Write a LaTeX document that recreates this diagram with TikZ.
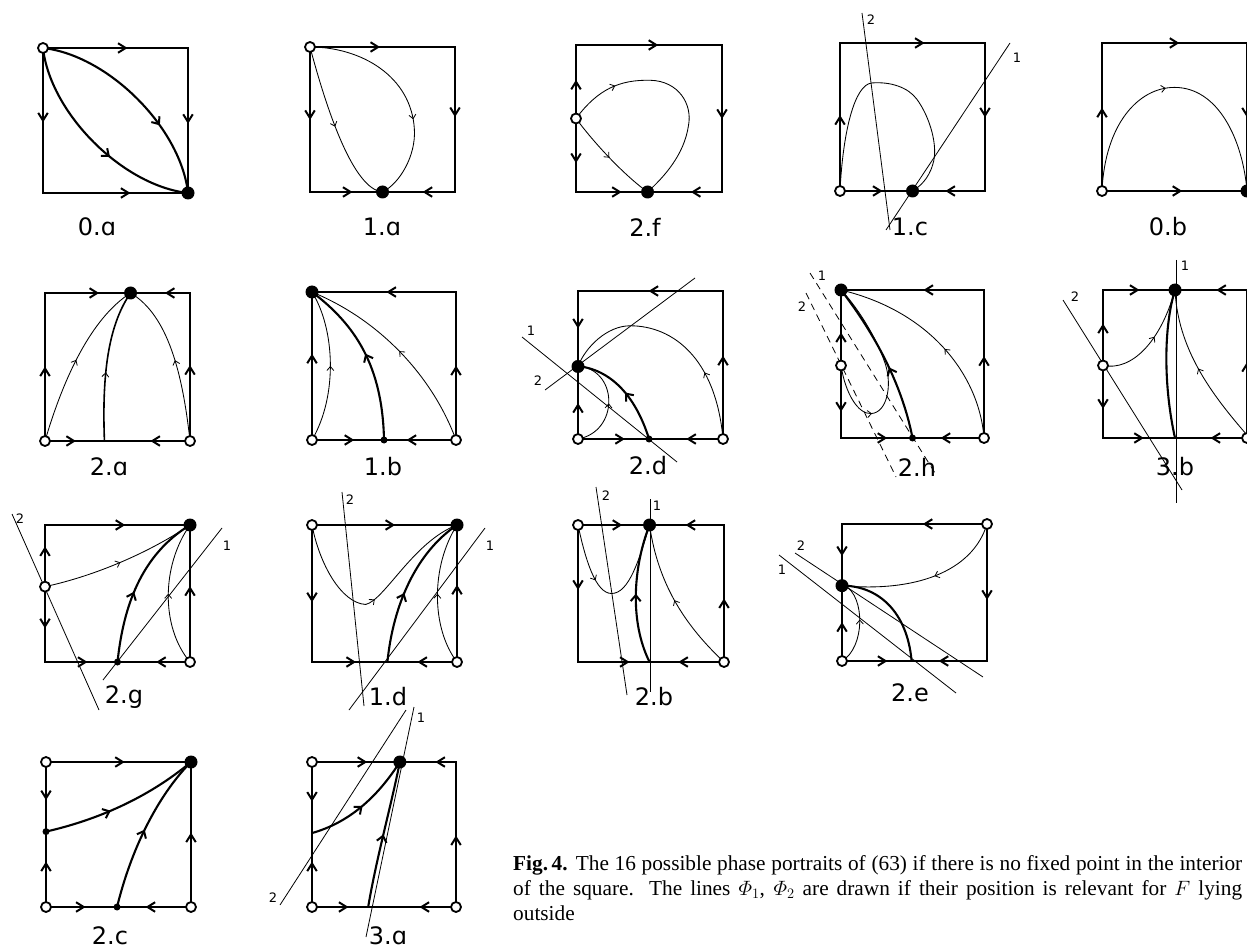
\documentclass[tikz,border=0pt]{standalone}
\usepackage{amsmath}
\usepackage{fontspec}
\setmainfont{Liberation Serif}
\newfontfamily\labfont{DejaVu Sans}
\usetikzlibrary{arrows.meta,decorations.markings}
\tikzset{
 sq/.style={line width=2.3pt,line join=miter},
 thk/.style={line width=2.1pt},
 thn/.style={line width=0.85pt},
 phl/.style={line width=0.8pt},
 phd/.style={line width=0.8pt,dash pattern=on 7pt off 5pt},
 cma/.style={postaction={decorate},decoration={markings,mark=at position #1 with {\arrow[line width=0.8pt]{Straight Barb[length=4pt,width=7pt]}}}},
 kma/.style={postaction={decorate},decoration={markings,mark=at position #1 with {\arrow[line width=2pt]{Straight Barb[length=6pt,width=10pt]}}}},
 opd/.style={circle,draw,line width=1.8pt,fill=white,inner sep=0pt,minimum size=10pt},
 fld/.style={circle,fill=black,inner sep=0pt,minimum size=13pt},
 smd/.style={circle,fill=black,inner sep=0pt,minimum size=7pt},
 lab/.style={font=\labfont\fontsize{24}{24}\selectfont,inner sep=0pt},
 phn/.style={font=\labfont\fontsize{13}{13}\selectfont,inner sep=0pt},
 captext/.style={font=\fontsize{21.3}{25}\selectfont,inner sep=0pt,anchor=base west},
}
\newcommand\edgA[2]{\draw[line width=2pt,line join=miter] (#1) ++(#2+148:9pt) -- (#1) -- ++(#2-148:9pt);}
\begin{document}
\begin{tikzpicture}[x=1pt,y=-1pt]
\fill[white] (0,0) rectangle (1247,949);
\useasboundingbox (0,0) rectangle (1247,949);

% 0.a
\begin{scope}[shift={(43,193)},x=145pt,y=145pt]
\draw[sq] (0,0) rectangle (1,1);
\edgA{0.57,1}{0}\edgA{1,0.49}{270}\edgA{0,0.5}{270}\edgA{0.59,0}{0}
\draw[thk,kma=0.66] (0,1) .. controls (0.45,0.95) and (0.95,0.45) .. (1,0);
\draw[thk,kma=0.6] (0,1) .. controls (0.05,0.55) and (0.55,0.05) .. (1,0);
\node[opd] (Aao) at (0,1) {};
\node[fld] (Aaf) at (1,0) {};
\end{scope}
\node[lab] (Aal) at (97,227) {0.ɑ};

% 1.a
\begin{scope}[shift={(310,192)},x=145pt,y=145pt]
\draw[sq] (0,0) rectangle (1,1);
\edgA{0.47,1}{0}\edgA{1,0.53}{270}\edgA{0,0.51}{270}\edgA{0.28,0}{0}\edgA{0.79,0}{180}
\draw[thn,cma=0.5] (0,1) .. controls (0.12,0.55) and (0.3,0.02) .. (0.5,0);
\draw[thn,cma=0.62] (0,1) .. controls (0.35,1) and (0.7,0.8) .. (0.72,0.43) .. controls (0.73,0.25) and (0.62,0.06) .. (0.5,0);
\node[opd] (Bao) at (0,1) {};
\node[fld] (Baf) at (0.5,0) {};
\end{scope}
\node[lab] (Bal) at (382,227) {1.ɑ};

% 2.f
\begin{scope}[shift={(576,192)},x=146pt,y=147pt]
\draw[sq] (0,0) rectangle (1,1);
\edgA{0.55,1}{0}\edgA{1,0.51}{270}\edgA{0,0.75}{90}\edgA{0,0.21}{270}\edgA{0.3,0}{0}\edgA{0.8,0}{180}
\draw[thn,cma=0.22] (0,0.5) .. controls (0.15,0.7) and (0.3,0.765) .. (0.51,0.76) .. controls (0.7,0.755) and (0.8,0.6) .. (0.77,0.45) .. controls (0.74,0.25) and (0.6,0.1) .. (0.49,0);
\draw[thn,cma=0.5] (0,0.5) .. controls (0.15,0.3) and (0.35,0.1) .. (0.49,0);
\node[opd] (Cfo) at (0,0.5) {};
\node[fld] (Cff) at (0.49,0) {};
\end{scope}
\node[lab] (Cfl) at (645,227) {2.f};

% 1.c
\coordinate (Dc2a) at (862,13); \coordinate (Dc2b) at (890,230);
\coordinate (Dc1a) at (1010,43); \coordinate (Dc1b) at (886,230);
\draw[phl] (Dc2a) -- (Dc2b); \draw[phl] (Dc1a) -- (Dc1b);
\begin{scope}[shift={(840,191)},x=145pt,y=148pt]
\draw[sq] (0,0) rectangle (1,1);
\edgA{0.57,1}{0}\edgA{1,0.51}{270}\edgA{0,0.5}{90}\edgA{0.28,0}{0}\edgA{0.74,0}{180}
\draw[thn] (0,0) .. controls (0.02,0.4) and (0.1,0.72) .. (0.22,0.73) .. controls (0.35,0.74) and (0.47,0.7) .. (0.53,0.62) .. controls (0.62,0.5) and (0.68,0.3) .. (0.64,0.18) .. controls (0.61,0.08) and (0.55,0.03) .. (0.5,0);
\node[opd] (Dco) at (0,0) {};
\node[fld] (Dcf) at (0.5,0) {};
\end{scope}
\node[phn] (Dcn2) at (871,20) {2};
\node[phn] (Dcn1) at (1017,58) {1};
\node[lab] (Dcl) at (910,227) {1.c};

% 0.b
\begin{scope}[shift={(1102,191)},x=145pt,y=148pt]
\draw[sq] (0,0) rectangle (1,1);
\edgA{0.52,1}{0}\edgA{0,0.55}{90}\edgA{1,0.51}{270}\edgA{0.54,0}{0}
\draw[thn,cma=0.47] (0,0) .. controls (0.02,0.45) and (0.25,0.7) .. (0.5,0.7) .. controls (0.8,0.7) and (0.97,0.35) .. (1,0);
\node[opd] (Ebo) at (0,0) {};
\node[fld] (Ebf) at (1,0) {};
\end{scope}
\node[lab] (Ebl) at (1168,227) {0.b};

% 2.a
\begin{scope}[shift={(45,441)},x=145pt,y=148pt]
\draw[sq] (0,0) rectangle (1,1);
\edgA{0.36,1}{0}\edgA{0.84,1}{180}\edgA{0,0.49}{90}\edgA{1,0.5}{90}\edgA{0.2,0}{0}\edgA{0.74,0}{180}
\draw[thn,cma=0.5] (0,0) .. controls (0.15,0.5) and (0.35,0.85) .. (0.59,1);
\draw[line width=1.6pt,cma=0.45] (0.41,0) .. controls (0.39,0.5) and (0.45,0.8) .. (0.59,1);
\draw[thn,cma=0.5] (1,0) .. controls (0.95,0.45) and (0.85,0.85) .. (0.59,1);
\node[opd] (Fao1) at (0,0) {};
\node[opd] (Fao2) at (1,0) {};
\node[fld] (Faf) at (0.59,1) {};
\end{scope}
\node[lab] (Fal) at (109,467) {2.ɑ};

% 1.b
\begin{scope}[shift={(312,440)},x=144pt,y=148pt]
\draw[sq] (0,0) rectangle (1,1);
\edgA{0.53,1}{180}\edgA{0,0.57}{90}\edgA{1,0.49}{90}\edgA{0.28,0}{0}\edgA{0.67,0}{180}
\draw[thn,cma=0.5] (0,0) .. controls (0.18,0.3) and (0.16,0.75) .. (0,1);
\draw[thk,kma=0.52] (0.5,0) .. controls (0.49,0.5) and (0.3,0.78) .. (0,1);
\draw[thn,cma=0.5] (1,0) .. controls (0.85,0.4) and (0.5,0.8) .. (0,1);
\node[opd] (Gbo1) at (0,0) {}; \node[opd] (Gbo2) at (1,0) {};
\node[fld] (Gbf) at (0,1) {}; \node[smd] (Gbs) at (0.5,0) {};
\end{scope}
\node[lab] (Gbl) at (383,467) {1.b};

% 2.d
\draw[phl] (522,337) -- (677,462); \draw[phl] (545,390) -- (695,278);
\begin{scope}[shift={(578,439)},x=145pt,y=148pt]
\draw[sq] (0,0) rectangle (1,1);
\edgA{0.5,1}{180}\edgA{0,0.76}{270}\edgA{0,0.23}{90}\edgA{1,0.55}{90}\edgA{0.31,0}{0}\edgA{0.76,0}{180}
\draw[thn,cma=0.3] (1,0) .. controls (0.95,0.55) and (0.65,0.765) .. (0.36,0.765) .. controls (0.2,0.765) and (0.05,0.62) .. (0,0.49);
\draw[thk,kma=0.5] (0.49,0) .. controls (0.42,0.22) and (0.28,0.45) .. (0.02,0.49);
\draw[thn,cma=0.5] (0,0) .. controls (0.28,0.05) and (0.28,0.45) .. (0.02,0.49);
\node[opd] (Hdo1) at (0,0) {}; \node[opd] (Hdo2) at (1,0) {};
\node[fld] (Hdf) at (0,0.49) {}; \node[smd] (Hds) at (0.49,0) {};
\end{scope}
\node[phn] (Hdn1) at (531,331) {1};
\node[phn] (Hdn2) at (538,381) {2};
\node[lab] (Hdl) at (648,466) {2.d};

% 2.h
\draw[phd] (810,273) -- (935,473); \draw[phd] (806,293) -- (896,477);
\begin{scope}[shift={(841,438)},x=143pt,y=148pt]
\draw[sq] (0,0) rectangle (1,1);
\edgA{0.59,1}{180}\edgA{0,0.7}{90}\edgA{0,0.19}{270}\edgA{1,0.54}{90}\edgA{0.31,0}{0}\edgA{0.71,0}{180}
\draw[thn,cma=0.45] (1,0) .. controls (0.97,0.4) and (0.65,0.85) .. (0,1);
\draw[thk,kma=0.45] (0.5,0) .. controls (0.42,0.4) and (0.2,0.75) .. (0,1);
\draw[thn,cma=0.3] (0,0.49) .. controls (0.03,0.3) and (0.12,0.16) .. (0.21,0.165) .. controls (0.32,0.17) and (0.36,0.35) .. (0.31,0.5) .. controls (0.24,0.7) and (0.1,0.9) .. (0,1);
\node[opd] (Iho1) at (0,0.49) {}; \node[opd] (Iho2) at (1,0) {};
\node[fld] (Ihf) at (0,1) {}; \node[smd] (Ihs) at (0.5,0) {};
\end{scope}
\node[phn] (Ihn1) at (822,276) {1};
\node[phn] (Ihn2) at (802,307) {2};
\node[lab] (Ihl) at (917,467) {2.h};

% 3.b
\draw[phl] (1176,260) -- (1176,503); \draw[phl] (1063,300) -- (1182,490);
\begin{scope}[shift={(1103,438)},x=144pt,y=148pt]
\draw[sq] (0,0) rectangle (1,1);
\edgA{0.24,1}{0}\edgA{0.8,1}{180}\edgA{0,0.76}{90}\edgA{0,0.21}{270}\edgA{1,0.5}{90}\edgA{0.27,0}{0}\edgA{0.76,0}{180}
\draw[thn,cma=0.55] (0,0.49) .. controls (0.2,0.45) and (0.4,0.65) .. (0.5,1);
\draw[thk] (0.5,0) .. controls (0.42,0.35) and (0.42,0.75) .. (0.5,1);
\draw[thn,cma=0.5] (1,0.02) .. controls (0.75,0.3) and (0.52,0.6) .. (0.5,1);
\node[opd] (Jbo1) at (0,0.49) {}; \node[opd] (Jbo2) at (1,0) {};
\node[fld] (Jbf) at (0.5,1) {};
\end{scope}
\node[phn] (Jbn1) at (1185,266) {1};
\node[phn] (Jbn2) at (1075,297) {2};
\node[lab] (Jbl) at (1175,467) {3.b};

% 2.g
\draw[phl] (12,514) -- (99,710); \draw[phl] (103,680) -- (222,528);
\begin{scope}[shift={(45,662)},x=145pt,y=137pt]
\draw[sq] (0,0) rectangle (1,1);
\edgA{0.54,1}{0}\edgA{0,0.83}{90}\edgA{0,0.26}{270}\edgA{1,0.54}{90}\edgA{0.28,0}{0}\edgA{0.78,0}{180}
\draw[thn,cma=0.5] (0,0.55) .. controls (0.35,0.63) and (0.72,0.8) .. (1,1);
\draw[thk,kma=0.45] (0.5,0) .. controls (0.54,0.4) and (0.66,0.78) .. (1,1);
\draw[thn,cma=0.5] (1,0) .. controls (0.8,0.25) and (0.8,0.7) .. (1,1);
\node[opd] (Kgo1) at (0,0.55) {}; \node[opd] (Kgo2) at (1,0) {};
\node[fld] (Kgf) at (1,1) {}; \node[smd] (Kgs) at (0.5,0) {};
\end{scope}
\node[phn] (Kgn2) at (20,519) {2};
\node[phn] (Kgn1) at (227,546) {1};
\node[lab] (Kgl) at (124,697) {2.g};

% 1.d
\draw[phl] (342,492) -- (364,706); \draw[phl] (349,710) -- (485,528);
\begin{scope}[shift={(312,662)},x=145pt,y=137pt]
\draw[sq] (0,0) rectangle (1,1);
\edgA{0.56,1}{0}\edgA{0,0.45}{270}\edgA{1,0.55}{90}\edgA{0.29,0}{0}\edgA{0.74,0}{180}
\draw[thn,cma=0.5] (0,1) .. controls (0.05,0.72) and (0.2,0.43) .. (0.37,0.42) .. controls (0.5,0.45) and (0.7,0.88) .. (1,1);
\draw[thk,kma=0.45] (0.52,0) .. controls (0.56,0.42) and (0.72,0.8) .. (1,1);
\draw[thn,cma=0.5] (1,0) .. controls (0.82,0.25) and (0.82,0.7) .. (1,1);
\node[opd] (Ldo1) at (0,1) {}; \node[opd] (Ldo2) at (1,0) {};
\node[fld] (Ldf) at (1,1) {};
\end{scope}
\node[phn] (Ldn2) at (350,500) {2};
\node[phn] (Ldn1) at (490,546) {1};
\node[lab] (Ldl) at (388,697) {1.d};

% 2.b
\draw[phl] (650,499) -- (650,692); \draw[phl] (596,487) -- (627,695);
\begin{scope}[shift={(578,662)},x=146pt,y=137pt]
\draw[sq] (0,0) rectangle (1,1);
\edgA{0.29,1}{0}\edgA{0.75,1}{180}\edgA{0,0.54}{270}\edgA{1,0.45}{90}\edgA{0.34,0}{0}\edgA{0.7,0}{180}
\draw[thn,cma=0.36] (0,1) .. controls (0.05,0.75) and (0.12,0.5) .. (0.23,0.5) .. controls (0.35,0.5) and (0.42,0.75) .. (0.49,1);
\draw[thk,kma=0.5] (0.49,0) .. controls (0.35,0.3) and (0.38,0.7) .. (0.49,1);
\draw[thn,cma=0.5] (1,0) .. controls (0.75,0.25) and (0.55,0.55) .. (0.49,1);
\node[opd] (Mbo1) at (0,1) {}; \node[opd] (Mbo2) at (1,0) {};
\node[fld] (Mbf) at (0.49,1) {};
\end{scope}
\node[phn] (Mbn2) at (606,496) {2};
\node[phn] (Mbn1) at (657,506) {1};
\node[lab] (Mbl) at (654,697) {2.b};

% 2.e
\draw[phl] (795,553) -- (983,677); \draw[phl] (779,555) -- (956,693);
\begin{scope}[shift={(842,661)},x=145pt,y=137pt]
\draw[sq] (0,0) rectangle (1,1);
\edgA{0.57,1}{180}\edgA{0,0.78}{270}\edgA{0,0.27}{90}\edgA{1,0.46}{270}\edgA{0.3,0}{0}\edgA{0.68,0}{180}
\draw[thn,cma=0.45] (1,1) .. controls (0.9,0.65) and (0.5,0.5) .. (0,0.55);
\draw[thk] (0.48,0) .. controls (0.45,0.36) and (0.25,0.55) .. (0,0.55);
\draw[thn,cma=0.55] (0,0) .. controls (0.16,0.1) and (0.16,0.47) .. (0.02,0.55);
\node[opd] (Neo1) at (0,0) {}; \node[opd] (Neo2) at (1,1) {};
\node[fld] (Nef) at (0,0.55) {};
\end{scope}
\node[phn] (Nen2) at (801,546) {2};
\node[phn] (Nen1) at (782,570) {1};
\node[lab] (Nel) at (910,693) {2.e};

% 2.c
\begin{scope}[shift={(46,907)},x=145pt,y=145pt]
\draw[sq] (0,0) rectangle (1,1);
\edgA{0.53,1}{0}\edgA{0,0.75}{270}\edgA{0,0.3}{90}\edgA{1,0.5}{90}\edgA{0.26,0}{0}\edgA{0.7,0}{180}
\draw[thk,kma=0.42] (0,0.52) .. controls (0.35,0.6) and (0.7,0.75) .. (1,1);
\draw[thk,kma=0.5] (0.49,0) .. controls (0.6,0.45) and (0.8,0.8) .. (1,1);
\node[opd] (Oco1) at (0,1) {}; \node[opd] (Oco2) at (0,0) {}; \node[opd] (Oco3) at (1,0) {};
\node[fld] (Ocf) at (1,1) {}; \node[smd] (Ocs1) at (0,0.52) {}; \node[smd] (Ocs2) at (0.49,0) {};
\end{scope}
\node[lab] (Ocl) at (110,936) {2.c};

% 3.a
\draw[phl] (280,905) -- (406,710); \draw[phl] (366,937) -- (414,707);
\begin{scope}[shift={(312,907)},x=144pt,y=145pt]
\draw[sq] (0,0) rectangle (1,1);
\edgA{0.37,1}{0}\edgA{0.87,1}{180}\edgA{0,0.74}{270}\edgA{0,0.3}{90}\edgA{1,0.48}{90}\edgA{0.24,0}{0}\edgA{0.76,0}{180}
\draw[thk,kma=0.5] (0,0.51) .. controls (0.25,0.58) and (0.45,0.75) .. (0.61,1);
\draw[thk,kma=0.5] (0.39,0) .. controls (0.45,0.35) and (0.55,0.7) .. (0.61,1);
\node[opd] (Pao1) at (0,1) {}; \node[opd] (Pao2) at (0,0) {}; \node[opd] (Pao3) at (1,0) {};
\node[fld] (Paf) at (0.61,1) {};
\end{scope}
\node[phn] (Pan2) at (273,898) {2};
\node[phn] (Pan1) at (421,718) {1};
\node[lab] (Pal) at (388,936) {3.ɑ};

% caption
\node[captext] (cap1) at (513,870) {\makebox[729pt][s]{\textbf{Fig.\,4.} The 16 possible phase portraits of (63) if there is no fixed point in the interior}};
\node[captext] (cap2) at (513,895) {\makebox[729pt][s]{of the square. The lines $\varPhi_1$, $\varPhi_2$ are drawn if their position is relevant for $F$ lying}};
\node[captext] (cap3) at (513,920) {outside};
\end{tikzpicture}
\end{document}
